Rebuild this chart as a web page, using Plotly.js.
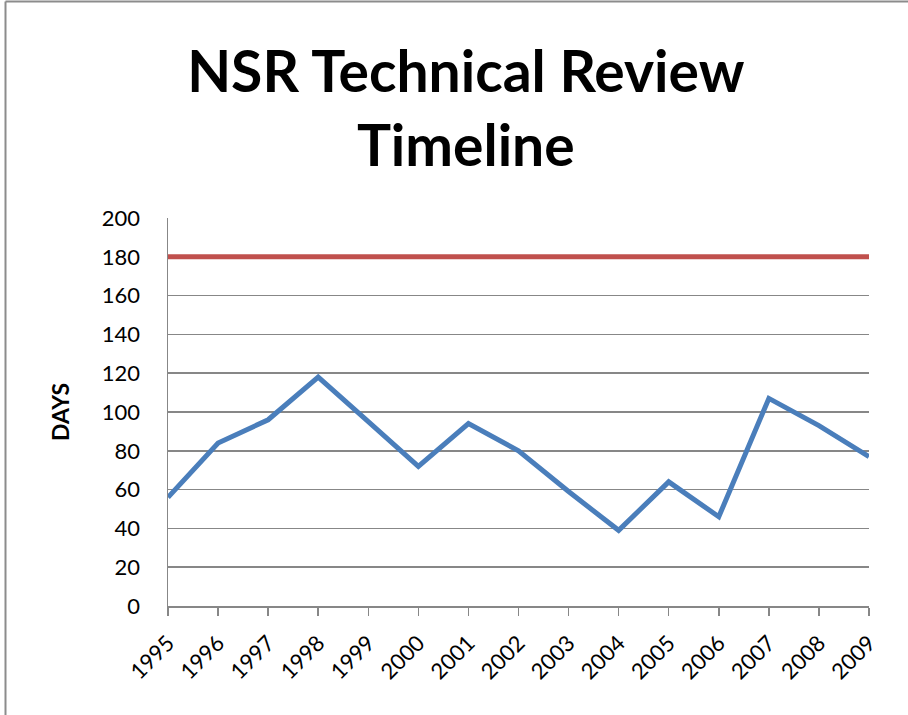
<!DOCTYPE html>
<html>
<head>
<meta charset="utf-8">
<script src="https://cdn.plot.ly/plotly-3.0.1.min.js"></script>
<style>
  body { margin: 0; background: #fff; }
  #chart { width: 908px; height: 715px; }
</style>
</head>
<body>
<div id="chart"></div>
<script>
// Data
const years = [1995, 1996, 1997, 1998, 1999, 2000, 2001, 2002, 2003, 2004, 2005, 2006, 2007, 2008, 2009];
const reviewDays = [56, 84, 96, 118, 95, 72, 94, 80, 59, 39, 64, 46, 107, 93, 77];
const deadlineDays = [180, 180, 180, 180, 180, 180, 180, 180, 180, 180, 180, 180, 180, 180, 180];
const yTicks = [0, 20, 40, 60, 80, 100, 120, 140, 160, 180, 200];

const gridGray = '#878787';

const traces = [
    {
        x: years,
        y: deadlineDays,
        mode: 'lines',
        name: 'Deadline',
        line: { color: '#c0504d', width: 5 },
        hoverinfo: 'x+y'
    },
    {
        x: years,
        y: reviewDays,
        mode: 'lines',
        name: 'Days',
        line: { color: '#4a7ebb', width: 5 },
        hoverinfo: 'x+y'
    }
];

// frame of the chart area (left and top edges, converted to paper units)
const L = 168, R = 869, T = 218, B = 606;
const px = v => (v - L) / (R - L);
const py = v => (B - v) / (B - T);

const layout = {
    width: 908,
    height: 715,
    margin: { l: L, r: 908 - R, t: T, b: 715 - B },
    paper_bgcolor: '#ffffff',
    plot_bgcolor: '#ffffff',
    font: { family: 'Lato, "Open Sans", sans-serif', color: '#000000', size: 22 },
    showlegend: false,
    title: {
        text: '<b>NSR Technical Review<br>Timeline</b>',
        font: { family: 'Lato, sans-serif', size: 57, color: '#000000' },
        x: 0.513,
        xanchor: 'center',
        y: 0.872,
        yanchor: 'middle'
    },
    xaxis: {
        range: [1995, 2009],
        tickvals: years,
        ticktext: years.map(String),
        tickangle: -45,
        ticks: 'outside',
        ticklen: 8,
        tickwidth: 1.5,
        tickcolor: gridGray,
        showline: true,
        linecolor: gridGray,
        linewidth: 1.5,
        showgrid: false,
        zeroline: false,
        ticklabelstandoff: 6,
        tickfont: { size: 22 }
    },
    xaxis2: {
        overlaying: 'x',
        matches: 'x',
        anchor: 'y',
        side: 'bottom',
        range: [1995, 2009],
        tickvals: years,
        ticks: 'inside',
        ticklen: 9,
        tickwidth: 1.5,
        tickcolor: gridGray,
        showticklabels: false,
        showgrid: false,
        zeroline: false,
        showline: false
    },
    yaxis: {
        range: [0, 200],
        tickvals: yTicks,
        ticks: '',
        showline: true,
        linecolor: gridGray,
        linewidth: 1.5,
        showgrid: true,
        gridcolor: gridGray,
        gridwidth: 1.5,
        zeroline: false,
        ticklabelstandoff: 22,
        tickfont: { size: 22 },
        title: {
            text: '<b>DAYS</b>',
            font: { size: 23 },
            standoff: 26
        }
    },
    shapes: [
        { type: 'line', xref: 'paper', yref: 'paper', x0: px(5.5), x1: px(5.5), y0: py(1.5), y1: py(715), line: { color: '#8c8c8c', width: 2 } },
        { type: 'line', xref: 'paper', yref: 'paper', x0: px(5.5), x1: px(908), y0: py(1.5), y1: py(1.5), line: { color: '#8c8c8c', width: 2 } }
    ]
};

Plotly.newPlot('chart', traces, layout, { displayModeBar: false, staticPlot: true });
</script>
</body>
</html>
